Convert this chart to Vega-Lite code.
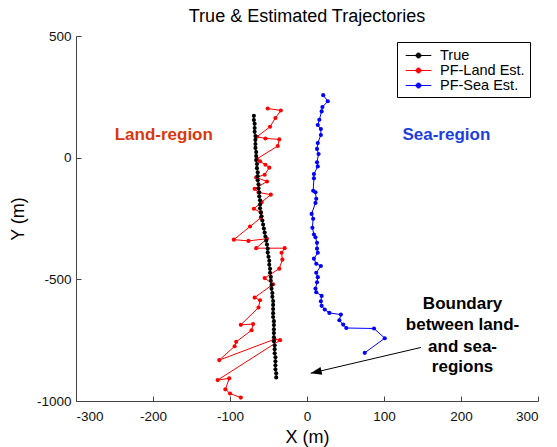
{
  "$schema": "https://vega.github.io/schema/vega-lite/v6.json",
  "width": 462,
  "height": 365,
  "autosize": {"type": "none"},
  "padding": {"left": 76, "top": 36, "right": 19, "bottom": 46},
  "background": "white",
  "title": {"text": "True & Estimated Trajectories", "fontSize": 18, "fontWeight": "normal", "font": "Liberation Sans", "color": "black", "frame": "group", "anchor": "middle", "baseline": "alphabetic", "offset": -11},
  "config": {
    "view": {"stroke": null},
    "font": "Liberation Sans",
    "axis": {"grid": false, "domainColor": "#444", "tickColor": "#444", "labelColor": "#111", "labelFont": "Liberation Sans", "labelFontSize": 13.5, "titleFont": "Liberation Sans", "titleFontSize": 18, "titleFontWeight": "normal", "titleColor": "black", "tickSize": -5, "labelExpr": "'' + datum.value"}
  },
  "datasets": {
    "traj": [
      {"series": "True", "t": 1, "x": -69, "y": 172}, {"series": "True", "t": 2, "x": -69, "y": 155}, {"series": "True", "t": 3, "x": -68, "y": 139}, {"series": "True", "t": 4, "x": -68, "y": 122}, {"series": "True", "t": 5, "x": -68, "y": 106}, {"series": "True", "t": 6, "x": -67, "y": 89}, {"series": "True", "t": 7, "x": -67, "y": 73}, {"series": "True", "t": 8, "x": -67, "y": 56}, {"series": "True", "t": 9, "x": -67, "y": 40}, {"series": "True", "t": 10, "x": -66, "y": 23},
      {"series": "True", "t": 11, "x": -66, "y": 7}, {"series": "True", "t": 12, "x": -66, "y": -10}, {"series": "True", "t": 13, "x": -65, "y": -26}, {"series": "True", "t": 14, "x": -65, "y": -43}, {"series": "True", "t": 15, "x": -64, "y": -60}, {"series": "True", "t": 16, "x": -64, "y": -76}, {"series": "True", "t": 17, "x": -64, "y": -93}, {"series": "True", "t": 18, "x": -63, "y": -109}, {"series": "True", "t": 19, "x": -63, "y": -126}, {"series": "True", "t": 20, "x": -62, "y": -142},
      {"series": "True", "t": 21, "x": -62, "y": -159}, {"series": "True", "t": 22, "x": -61, "y": -175}, {"series": "True", "t": 23, "x": -61, "y": -192}, {"series": "True", "t": 24, "x": -61, "y": -208}, {"series": "True", "t": 25, "x": -60, "y": -225}, {"series": "True", "t": 26, "x": -59, "y": -241}, {"series": "True", "t": 27, "x": -58, "y": -258}, {"series": "True", "t": 28, "x": -57, "y": -275}, {"series": "True", "t": 29, "x": -56, "y": -291}, {"series": "True", "t": 30, "x": -55, "y": -308},
      {"series": "True", "t": 31, "x": -54, "y": -324}, {"series": "True", "t": 32, "x": -53, "y": -341}, {"series": "True", "t": 33, "x": -52, "y": -357}, {"series": "True", "t": 34, "x": -51, "y": -374}, {"series": "True", "t": 35, "x": -51, "y": -390}, {"series": "True", "t": 36, "x": -50, "y": -407}, {"series": "True", "t": 37, "x": -49, "y": -424}, {"series": "True", "t": 38, "x": -49, "y": -440}, {"series": "True", "t": 39, "x": -48, "y": -457}, {"series": "True", "t": 40, "x": -48, "y": -473},
      {"series": "True", "t": 41, "x": -47, "y": -490}, {"series": "True", "t": 42, "x": -47, "y": -506}, {"series": "True", "t": 43, "x": -46, "y": -523}, {"series": "True", "t": 44, "x": -46, "y": -539}, {"series": "True", "t": 45, "x": -45, "y": -556}, {"series": "True", "t": 46, "x": -45, "y": -572}, {"series": "True", "t": 47, "x": -44, "y": -589}, {"series": "True", "t": 48, "x": -44, "y": -605}, {"series": "True", "t": 49, "x": -44, "y": -622}, {"series": "True", "t": 50, "x": -44, "y": -639},
      {"series": "True", "t": 51, "x": -44, "y": -655}, {"series": "True", "t": 52, "x": -43, "y": -672}, {"series": "True", "t": 53, "x": -43, "y": -688}, {"series": "True", "t": 54, "x": -43, "y": -705}, {"series": "True", "t": 55, "x": -43, "y": -721}, {"series": "True", "t": 56, "x": -43, "y": -738}, {"series": "True", "t": 57, "x": -43, "y": -754}, {"series": "True", "t": 58, "x": -42, "y": -771}, {"series": "True", "t": 59, "x": -42, "y": -787}, {"series": "True", "t": 60, "x": -42, "y": -804},
      {"series": "True", "t": 61, "x": -41, "y": -820}, {"series": "True", "t": 62, "x": -41, "y": -837}, {"series": "True", "t": 63, "x": -41, "y": -853}, {"series": "True", "t": 64, "x": -41, "y": -870}, {"series": "True", "t": 65, "x": -40, "y": -886}, {"series": "True", "t": 66, "x": -40, "y": -903},
      {"series": "PF-Land Est.", "t": 1, "x": -51, "y": 202}, {"series": "PF-Land Est.", "t": 2, "x": -34, "y": 194}, {"series": "PF-Land Est.", "t": 3, "x": -41, "y": 163}, {"series": "PF-Land Est.", "t": 4, "x": -48, "y": 127}, {"series": "PF-Land Est.", "t": 5, "x": -65, "y": 86}, {"series": "PF-Land Est.", "t": 6, "x": -54, "y": 79}, {"series": "PF-Land Est.", "t": 7, "x": -36, "y": 75}, {"series": "PF-Land Est.", "t": 8, "x": -38, "y": 48}, {"series": "PF-Land Est.", "t": 9, "x": -65, "y": -5}, {"series": "PF-Land Est.", "t": 10, "x": -61, "y": -15},
      {"series": "PF-Land Est.", "t": 11, "x": -54, "y": -29}, {"series": "PF-Land Est.", "t": 12, "x": -49, "y": -41}, {"series": "PF-Land Est.", "t": 13, "x": -55, "y": -70}, {"series": "PF-Land Est.", "t": 14, "x": -66, "y": -81}, {"series": "PF-Land Est.", "t": 15, "x": -52, "y": -98}, {"series": "PF-Land Est.", "t": 16, "x": -68, "y": -128}, {"series": "PF-Land Est.", "t": 17, "x": -63, "y": -143}, {"series": "PF-Land Est.", "t": 18, "x": -47, "y": -152}, {"series": "PF-Land Est.", "t": 19, "x": -59, "y": -183}, {"series": "PF-Land Est.", "t": 20, "x": -69, "y": -210},
      {"series": "PF-Land Est.", "t": 21, "x": -60, "y": -225}, {"series": "PF-Land Est.", "t": 22, "x": -60, "y": -247}, {"series": "PF-Land Est.", "t": 23, "x": -74, "y": -283}, {"series": "PF-Land Est.", "t": 24, "x": -95, "y": -337}, {"series": "PF-Land Est.", "t": 25, "x": -76, "y": -342}, {"series": "PF-Land Est.", "t": 26, "x": -52, "y": -333}, {"series": "PF-Land Est.", "t": 27, "x": -66, "y": -372}, {"series": "PF-Land Est.", "t": 28, "x": -29, "y": -372}, {"series": "PF-Land Est.", "t": 29, "x": -33, "y": -391}, {"series": "PF-Land Est.", "t": 30, "x": -32, "y": -419},
      {"series": "PF-Land Est.", "t": 31, "x": -36, "y": -456}, {"series": "PF-Land Est.", "t": 32, "x": -55, "y": -495}, {"series": "PF-Land Est.", "t": 33, "x": -44, "y": -520}, {"series": "PF-Land Est.", "t": 34, "x": -68, "y": -575}, {"series": "PF-Land Est.", "t": 35, "x": -61, "y": -586}, {"series": "PF-Land Est.", "t": 36, "x": -63, "y": -616}, {"series": "PF-Land Est.", "t": 37, "x": -86, "y": -687}, {"series": "PF-Land Est.", "t": 38, "x": -70, "y": -684}, {"series": "PF-Land Est.", "t": 39, "x": -72, "y": -709}, {"series": "PF-Land Est.", "t": 40, "x": -92, "y": -757},
      {"series": "PF-Land Est.", "t": 41, "x": -94, "y": -775}, {"series": "PF-Land Est.", "t": 42, "x": -114, "y": -832}, {"series": "PF-Land Est.", "t": 43, "x": -42, "y": -746}, {"series": "PF-Land Est.", "t": 44, "x": -35, "y": -750}, {"series": "PF-Land Est.", "t": 45, "x": -116, "y": -914}, {"series": "PF-Land Est.", "t": 46, "x": -101, "y": -907}, {"series": "PF-Land Est.", "t": 47, "x": -106, "y": -952}, {"series": "PF-Land Est.", "t": 48, "x": -100, "y": -969}, {"series": "PF-Land Est.", "t": 49, "x": -86, "y": -986},
      {"series": "PF-Sea Est.", "t": 1, "x": 21, "y": 257}, {"series": "PF-Sea Est.", "t": 2, "x": 27, "y": 232}, {"series": "PF-Sea Est.", "t": 3, "x": 20, "y": 208}, {"series": "PF-Sea Est.", "t": 4, "x": 19, "y": 190}, {"series": "PF-Sea Est.", "t": 5, "x": 16, "y": 156}, {"series": "PF-Sea Est.", "t": 6, "x": 14, "y": 134}, {"series": "PF-Sea Est.", "t": 7, "x": 18, "y": 118}, {"series": "PF-Sea Est.", "t": 8, "x": 18, "y": 93}, {"series": "PF-Sea Est.", "t": 9, "x": 14, "y": 60}, {"series": "PF-Sea Est.", "t": 10, "x": 13, "y": 36},
      {"series": "PF-Sea Est.", "t": 11, "x": 15, "y": 15}, {"series": "PF-Sea Est.", "t": 12, "x": 13, "y": -19}, {"series": "PF-Sea Est.", "t": 13, "x": 14, "y": -36}, {"series": "PF-Sea Est.", "t": 14, "x": 9, "y": -67}, {"series": "PF-Sea Est.", "t": 15, "x": 9, "y": -85}, {"series": "PF-Sea Est.", "t": 16, "x": 8, "y": -136}, {"series": "PF-Sea Est.", "t": 17, "x": 11, "y": -142}, {"series": "PF-Sea Est.", "t": 18, "x": 12, "y": -169}, {"series": "PF-Sea Est.", "t": 19, "x": 11, "y": -186}, {"series": "PF-Sea Est.", "t": 20, "x": 6, "y": -231},
      {"series": "PF-Sea Est.", "t": 21, "x": 8, "y": -251}, {"series": "PF-Sea Est.", "t": 22, "x": 7, "y": -288}, {"series": "PF-Sea Est.", "t": 23, "x": 9, "y": -316}, {"series": "PF-Sea Est.", "t": 24, "x": 11, "y": -327}, {"series": "PF-Sea Est.", "t": 25, "x": 13, "y": -350}, {"series": "PF-Sea Est.", "t": 26, "x": 13, "y": -374}, {"series": "PF-Sea Est.", "t": 27, "x": 14, "y": -391}, {"series": "PF-Sea Est.", "t": 28, "x": 9, "y": -415}, {"series": "PF-Sea Est.", "t": 29, "x": 12, "y": -436}, {"series": "PF-Sea Est.", "t": 30, "x": 18, "y": -445},
      {"series": "PF-Sea Est.", "t": 31, "x": 12, "y": -473}, {"series": "PF-Sea Est.", "t": 32, "x": 14, "y": -491}, {"series": "PF-Sea Est.", "t": 33, "x": 13, "y": -512}, {"series": "PF-Sea Est.", "t": 34, "x": 11, "y": -538}, {"series": "PF-Sea Est.", "t": 35, "x": 12, "y": -553}, {"series": "PF-Sea Est.", "t": 36, "x": 19, "y": -568}, {"series": "PF-Sea Est.", "t": 37, "x": 18, "y": -590}, {"series": "PF-Sea Est.", "t": 38, "x": 19, "y": -609}, {"series": "PF-Sea Est.", "t": 39, "x": 23, "y": -624}, {"series": "PF-Sea Est.", "t": 40, "x": 29, "y": -638},
      {"series": "PF-Sea Est.", "t": 41, "x": 44, "y": -645}, {"series": "PF-Sea Est.", "t": 42, "x": 42, "y": -668}, {"series": "PF-Sea Est.", "t": 43, "x": 47, "y": -686}, {"series": "PF-Sea Est.", "t": 44, "x": 51, "y": -700}, {"series": "PF-Sea Est.", "t": 45, "x": 87, "y": -702}, {"series": "PF-Sea Est.", "t": 46, "x": 101, "y": -742}, {"series": "PF-Sea Est.", "t": 47, "x": 75, "y": -802}
    ],
    "notes": [
      {"kind": "land", "text": "Land-region", "x": -186, "y": 93},
      {"kind": "sea", "text": "Sea-region", "x": 181, "y": 93},
      {"kind": "boundary", "text": "Boundary", "x": 202, "y": -603},
      {"kind": "boundary", "text": "between land-", "x": 202, "y": -688},
      {"kind": "boundary", "text": "and sea-", "x": 202, "y": -777},
      {"kind": "boundary", "text": "regions", "x": 202, "y": -862}
    ],
    "arrow": [
      {"x": 148, "y": -780, "x2": 4.8, "y2": -886}
    ]
  },
  "layer": [
    {
      "mark": {"type": "rule", "color": "black", "strokeWidth": 2},
      "encoding": {"x": {"datum": 0, "type": "quantitative", "scale": {"domain": [-300, 300], "nice": false}}}
    },
    {
      "mark": {"type": "rule", "color": "black", "strokeWidth": 2},
      "encoding": {"y": {"datum": 0, "type": "quantitative", "scale": {"domain": [-1000, 500], "nice": false}}}
    },
    {
      "data": {"name": "traj"},
      "mark": {"type": "line", "strokeWidth": 1, "point": {"filled": true, "size": 17, "opacity": 1}},
      "encoding": {
        "x": {"field": "x", "type": "quantitative", "scale": {"domain": [-300, 300], "nice": false}, "axis": {"values": [-300, -200, -100, 0, 100, 200, 300], "title": "X (m)", "labelPadding": 13, "titlePadding": 6}},
        "y": {"field": "y", "type": "quantitative", "scale": {"domain": [-1000, 500], "nice": false}, "axis": {"values": [-1000, -500, 0, 500], "title": "Y (m)", "labelPadding": 10, "titlePadding": 9}},
        "color": {"field": "series", "type": "nominal", "sort": ["True", "PF-Land Est.", "PF-Sea Est."],
          "scale": {"domain": ["True", "PF-Land Est.", "PF-Sea Est."], "range": ["#000000", "#ff0000", "#0000ff"]},
          "legend": {"orient": "none", "legendX": 321, "legendY": 6, "title": null, "symbolType": "M-0.6,0H2.6M0.69,0A0.31,0.31,0,1,0,1.31,0A0.31,0.31,0,1,0,0.69,0", "symbolSize": 256, "symbolStrokeWidth": 1, "strokeColor": "black", "fillColor": "white", "padding": 5, "rowPadding": 0, "labelFontSize": 14.5, "labelFont": "Liberation Sans", "labelColor": "black", "labelOffset": 21,
            "encode": {"symbols": {"update": {"fill": {"scale": "color", "field": "value"}, "stroke": {"scale": "color", "field": "value"}}}}}
        },
        "order": {"field": "t", "type": "quantitative"}
      }
    },
    {
      "data": {"name": "arrow"},
      "mark": {"type": "rule", "color": "black", "strokeWidth": 1},
      "encoding": {
        "x": {"field": "x", "type": "quantitative"}, "y": {"field": "y", "type": "quantitative"},
        "x2": {"field": "x2"}, "y2": {"field": "y2"}
      }
    },
    {
      "data": {"name": "arrow"},
      "mark": {"type": "point", "shape": "M0,0L-1,-0.36L-1,0.36Z", "size": 484, "angle": 167, "filled": true, "color": "black", "opacity": 1},
      "encoding": {"x": {"field": "x2", "type": "quantitative"}, "y": {"field": "y2", "type": "quantitative"}}
    },
    {
      "data": {"name": "notes"},
      "transform": [{"filter": "datum.kind === 'land'"}],
      "mark": {"type": "text", "fontSize": 17, "fontWeight": "bold", "font": "Liberation Sans", "color": "#d9380e", "baseline": "middle", "align": "center"},
      "encoding": {"x": {"field": "x", "type": "quantitative"}, "y": {"field": "y", "type": "quantitative"}, "text": {"field": "text"}}
    },
    {
      "data": {"name": "notes"},
      "transform": [{"filter": "datum.kind === 'sea'"}],
      "mark": {"type": "text", "fontSize": 17, "fontWeight": "bold", "font": "Liberation Sans", "color": "#1c3fe0", "baseline": "middle", "align": "center"},
      "encoding": {"x": {"field": "x", "type": "quantitative"}, "y": {"field": "y", "type": "quantitative"}, "text": {"field": "text"}}
    },
    {
      "data": {"name": "notes"},
      "transform": [{"filter": "datum.kind === 'boundary'"}],
      "mark": {"type": "text", "fontSize": 17, "fontWeight": "bold", "font": "Liberation Sans", "color": "black", "baseline": "middle", "align": "center"},
      "encoding": {"x": {"field": "x", "type": "quantitative"}, "y": {"field": "y", "type": "quantitative"}, "text": {"field": "text"}}
    }
  ]
}
